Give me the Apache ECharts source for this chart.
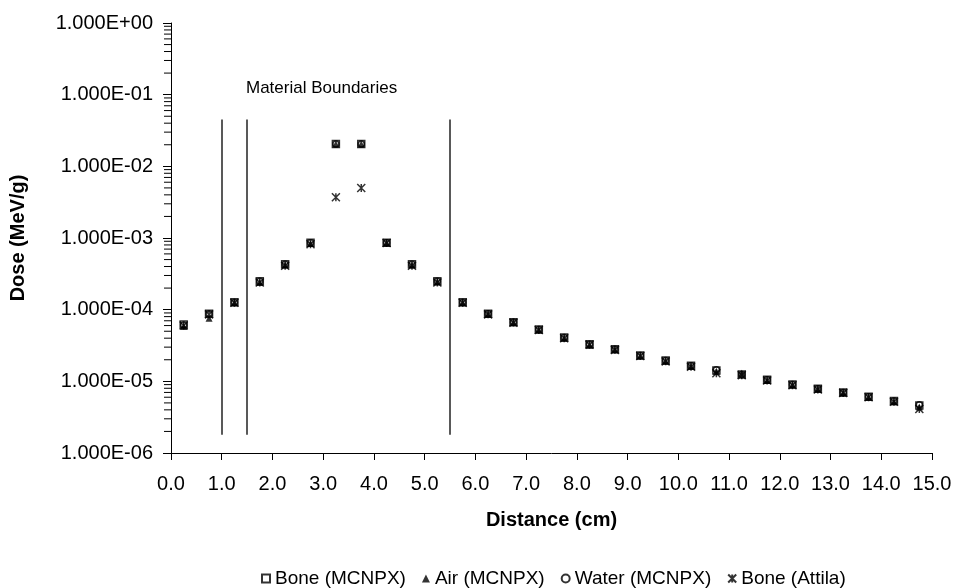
<!DOCTYPE html>
<html>
<head>
<meta charset="utf-8">
<script src="https://cdn.jsdelivr.net/npm/echarts@6/dist/echarts.min.js"></script>
<style>
  html, body { margin: 0; padding: 0; background: #fff; }
  #chart { width: 957px; height: 588px; }
</style>
</head>
<body>
<div id="chart"></div>
<script>
// distance bins (cm)
const distances = [
  0.25, 0.75, 1.25, 1.75, 2.25, 2.75, 3.25, 3.75, 4.25, 4.75,
  5.25, 5.75, 6.25, 6.75, 7.25, 7.75, 8.25, 8.75, 9.25, 9.75,
  10.25, 10.75, 11.25, 11.75, 12.25, 12.75, 13.25, 13.75, 14.25, 14.75
];
const boneMcnpx = [
  6.2e-5, 8.8e-5, 1.27e-4, 2.5e-4, 4.3e-4, 8.6e-4, 2.05e-2, 2.05e-2, 8.6e-4, 4.3e-4,
  2.5e-4, 1.27e-4, 8.8e-5, 6.7e-5, 5.3e-5, 4.1e-5, 3.3e-5, 2.8e-5, 2.3e-5, 1.95e-5,
  1.65e-5, 1.42e-5, 1.25e-5, 1.05e-5, 9.0e-6, 7.9e-6, 7.0e-6, 6.1e-6, 5.3e-6, 4.6e-6
];
const airMcnpx = [
  5.8e-5, 7.6e-5, 1.25e-4, 2.4e-4, 4.2e-4, 8.4e-4, 2.05e-2, 2.05e-2, 8.5e-4, 4.2e-4,
  2.45e-4, 1.25e-4, 8.6e-5, 6.6e-5, 5.2e-5, 4.0e-5, 3.2e-5, 2.75e-5, 2.25e-5, 1.9e-5,
  1.62e-5, 1.38e-5, 1.3e-5, 1.03e-5, 8.9e-6, 7.8e-6, 6.9e-6, 6.0e-6, 5.2e-6, 4.4e-6
];
const waterMcnpx = [
  6.1e-5, 8.7e-5, 1.26e-4, 2.5e-4, 4.3e-4, 8.6e-4, 2.05e-2, 2.05e-2, 8.6e-4, 4.3e-4,
  2.5e-4, 1.26e-4, 8.8e-5, 6.7e-5, 5.3e-5, 4.1e-5, 3.3e-5, 2.8e-5, 2.3e-5, 1.95e-5,
  1.65e-5, 1.45e-5, 1.25e-5, 1.05e-5, 9.0e-6, 7.9e-6, 7.0e-6, 6.1e-6, 5.3e-6, 4.7e-6
];
const boneAttila = [
  6.0e-5, 8.6e-5, 1.25e-4, 2.4e-4, 4.1e-4, 8.2e-4, 3.7e-3, 5.0e-3, 8.5e-4, 4.1e-4,
  2.4e-4, 1.25e-4, 8.6e-5, 6.6e-5, 5.2e-5, 4.0e-5, 3.25e-5, 2.75e-5, 2.25e-5, 1.9e-5,
  1.6e-5, 1.3e-5, 1.22e-5, 1.03e-5, 8.8e-6, 7.7e-6, 6.9e-6, 6.0e-6, 5.2e-6, 4.1e-6
];
const boundaries = [1.0, 1.5, 5.5];
const boundaryRange = [1.8e-6, 4.5e-2];
const decades = [1e-6, 1e-5, 1e-4, 1e-3, 1e-2, 1e-1];
const minorSteps = [2, 3, 4, 5, 6, 7, 8, 9];

const font = "'Liberation Sans', Arial, sans-serif";

function sciLabel(v) {
  const e = Math.round(Math.log10(v));
  const m = v / Math.pow(10, e);
  return m.toFixed(3) + 'E' + (e < 0 ? '-' : '+') + String(Math.abs(e)).padStart(2, '0');
}

function pairs(values) {
  return distances.map((d, i) => [d, values[i]]);
}

const minorTicks = [];
decades.forEach((d) => minorSteps.forEach((s) => minorTicks.push([0, d * s])));

const chart = echarts.init(document.getElementById('chart'), null, { renderer: 'canvas' });

const scatterBase = {
  type: 'scatter',
  emphasis: { disabled: true },
  z: 3
};

chart.setOption({
  animation: false,
  backgroundColor: '#fff',
  grid: { left: 169, right: 25, top: 23, bottom: 135, containLabel: false },
  xAxis: {
    type: 'value',
    min: 0,
    max: 15,
    interval: 1,
    name: 'Distance (cm)',
    nameLocation: 'middle',
    nameGap: 57,
    nameTextStyle: { fontFamily: font, fontSize: 20, fontWeight: 'bold', color: '#000' },
    axisLine: { lineStyle: { color: '#000', width: 1 } },
    axisTick: { inside: false, length: 7, lineStyle: { color: '#000' } },
    axisLabel: {
      fontFamily: font, fontSize: 20, color: '#000', margin: 21,
      formatter: (v) => v.toFixed(1)
    },
    splitLine: { show: false }
  },
  yAxis: {
    type: 'log',
    logBase: 10,
    min: 1e-6,
    max: 1,
    name: 'Dose (MeV/g)',
    nameLocation: 'middle',
    nameGap: 143,
    nameTextStyle: { fontFamily: font, fontSize: 20, fontWeight: 'bold', color: '#000' },
    axisLine: { show: true, lineStyle: { color: '#000', width: 1 } },
    axisTick: { show: true, inside: false, length: 8, lineStyle: { color: '#000' } },
    axisLabel: {
      fontFamily: font, fontSize: 20, color: '#000', margin: 18,
      formatter: (v) => sciLabel(v)
    },
    splitLine: { show: false }
  },
  legend: {
    left: 256,
    top: 564,
    itemWidth: 8,
    itemHeight: 8,
    itemGap: 16,
    textStyle: { fontFamily: font, fontSize: 19, color: '#000' },
    data: ['Bone (MCNPX)', 'Air (MCNPX)', 'Water (MCNPX)', 'Bone (Attila)']
  },
  graphic: [{
    type: 'text',
    left: 246,
    top: 80,
    style: { text: 'Material Boundaries', font: '17px ' + font, fill: '#000' }
  }],
  series: [
    Object.assign({}, scatterBase, {
      name: 'Bone (MCNPX)',
      data: pairs(boneMcnpx),
      symbol: 'rect',
      symbolSize: 7,
      itemStyle: { color: '#fff', borderColor: '#000', borderWidth: 1.5 },
      markLine: {
        silent: true,
        symbol: 'none',
        label: { show: false },
        lineStyle: { color: '#222', width: 1.5, type: 'solid' },
        data: boundaries.map((b) => [
          { coord: [b, boundaryRange[0]] },
          { coord: [b, boundaryRange[1]] }
        ])
      }
    }),
    Object.assign({}, scatterBase, {
      name: 'Air (MCNPX)',
      data: pairs(airMcnpx),
      symbol: 'triangle',
      symbolSize: 7,
      itemStyle: { color: '#000' }
    }),
    Object.assign({}, scatterBase, {
      name: 'Water (MCNPX)',
      data: pairs(waterMcnpx),
      symbol: 'circle',
      symbolSize: 6,
      itemStyle: { color: 'rgba(0,0,0,0)', borderColor: '#000', borderWidth: 1.5 }
    }),
    Object.assign({}, scatterBase, {
      name: 'Bone (Attila)',
      data: pairs(boneAttila),
      symbol: 'path://M0,0L10,10M10,0L0,10M5,0L5,10',
      symbolSize: 8,
      itemStyle: { color: 'rgba(0,0,0,0)', borderColor: '#000', borderWidth: 1.5 }
    }),
    {
      type: 'custom',
      name: 'minorTicks',
      silent: true,
      clip: false,
      data: minorTicks,
      encode: { x: 0, y: 1 },
      renderItem: (params, api) => {
        const p = api.coord([0, api.value(1)]);
        return {
          type: 'line',
          shape: { x1: p[0] - 7, y1: p[1], x2: p[0], y2: p[1] },
          style: { stroke: '#000', lineWidth: 1 }
        };
      },
      z: 5
    }
  ]
});
</script>
</body>
</html>
